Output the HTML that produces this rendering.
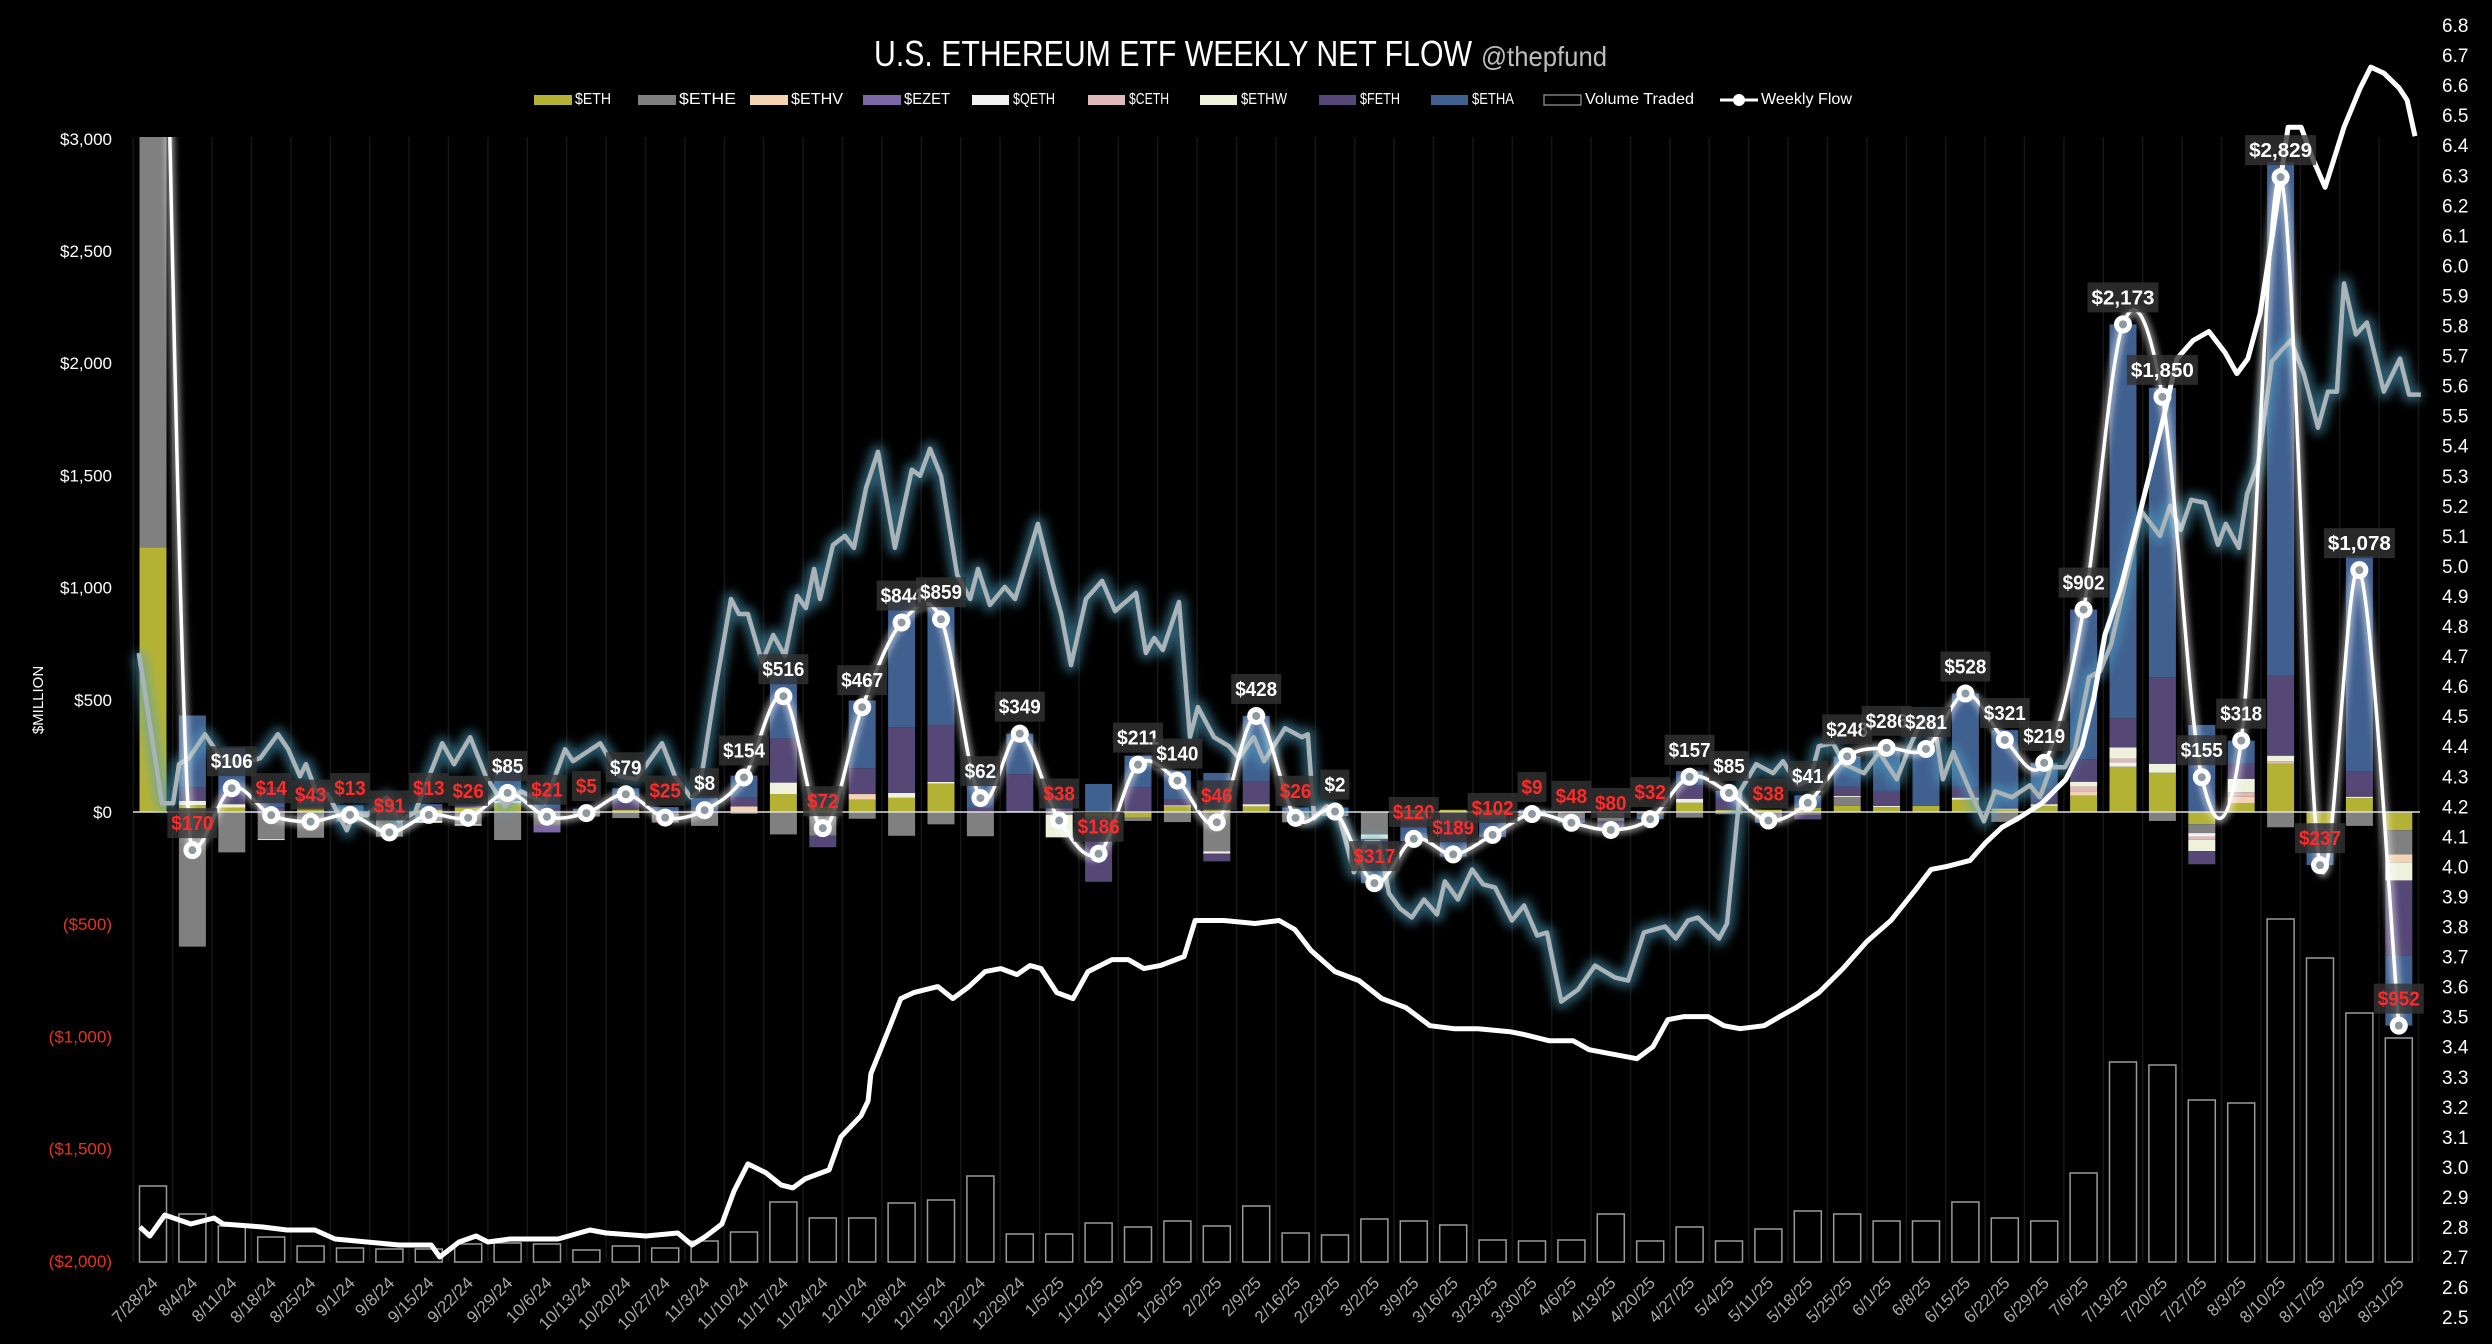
<!DOCTYPE html>
<html><head><meta charset="utf-8"><style>
html,body{margin:0;padding:0;background:#000;}
svg{display:block;font-family:"Liberation Sans",sans-serif;}
</style></head><body>
<svg id="chart" width="2492" height="1344" viewBox="0 0 2492 1344" xmlns="http://www.w3.org/2000/svg">
<defs>
<filter id="glowBlur" x="-20%" y="-20%" width="140%" height="140%"><feGaussianBlur stdDeviation="5"/></filter>
<filter id="softBlur" x="-20%" y="-20%" width="140%" height="140%"><feGaussianBlur stdDeviation="3"/></filter>
<clipPath id="plotClip"><rect x="120" y="137" width="2320" height="1140"/></clipPath>
</defs>
<rect x="0" y="0" width="2492" height="1344" fill="#000"/>
<g>
<text x="874" y="66" font-size="36" fill="#fff" textLength="598" lengthAdjust="spacingAndGlyphs">U.S. ETHEREUM ETF WEEKLY NET FLOW</text>
<text x="1481" y="66" font-size="28" fill="#bdbdbd" textLength="126" lengthAdjust="spacingAndGlyphs">@thepfund</text>
</g>
<g id="legend"></g>
<g id="grid"></g>
<g id="volume"></g>
<g id="bars" clip-path="url(#plotClip)"></g>
<line x1="133" x2="2420" y1="812" y2="812" stroke="#ddd" stroke-width="1.5"/>
<g id="lines"></g>
<g id="flow" clip-path="url(#plotClip)"></g>
<g id="labels"></g>
<g id="axes"></g>
<text x="0" y="0" transform="translate(43,700) rotate(-90)" text-anchor="middle" font-size="15" fill="#fff">$MILLION</text>
</svg>
<script>
const categories=["7/28/24","8/4/24","8/11/24","8/18/24","8/25/24","9/1/24","9/8/24","9/15/24","9/22/24","9/29/24","10/6/24","10/13/24","10/20/24","10/27/24","11/3/24","11/10/24","11/17/24","11/24/24","12/1/24","12/8/24","12/15/24","12/22/24","12/29/24","1/5/25","1/12/25","1/19/25","1/26/25","2/2/25","2/9/25","2/16/25","2/23/25","3/2/25","3/9/25","3/16/25","3/23/25","3/30/25","4/6/25","4/13/25","4/20/25","4/27/25","5/4/25","5/11/25","5/18/25","5/25/25","6/1/25","6/8/25","6/15/25","6/22/25","6/29/25","7/6/25","7/13/25","7/20/25","7/27/25","8/3/25","8/10/25","8/17/25","8/24/25","8/31/25"];
const seriesNames=["$ETH","$ETHE","$ETHV","$EZET","$QETH","$CETH","$ETHW","$FETH","$ETHA"];
const ETH=[1180,30,20,0,20,0,0,10,20,40,0,0,10,0,0,0,80,25,55,63,126,0,0,0,-20,-25,25,15,25,0,0,0,10,10,10,0,0,0,0,41,10,10,19,27,22,27,54,10,27,73,202,175,-54,40,216,-54,62,-81];
const ETHE=[2500,-600,-180,-120,-115,-43,-110,-40,-55,-125,-60,-20,-27,-47,-62,-8,-100,-105,-30,-106,-55,-108,0,-13,-15,-15,-45,-175,0,-46,-18,-100,-40,-50,-30,-19,-30,-40,-12,-25,-10,-38,-13,40,0,0,0,-44,0,0,0,-40,-40,0,-68,0,-62,-108];
const ETHV=[0,0,0,-5,0,0,0,0,0,0,0,0,0,0,0,25,0,0,25,0,0,0,0,0,0,0,0,0,0,0,0,0,0,0,0,0,0,0,0,0,0,0,0,0,0,0,0,0,0,20,0,0,0,28,0,0,0,-35];
const EZET=[0,0,0,0,0,0,0,0,0,0,-31,0,0,0,0,0,0,0,0,0,0,0,0,0,0,0,0,0,0,0,0,0,0,0,0,0,0,0,0,0,0,0,0,0,0,0,0,0,0,0,0,0,0,0,0,0,0,0];
const QETH=[0,0,0,0,0,0,0,0,0,0,0,0,0,0,0,0,0,0,0,0,0,0,0,0,0,0,0,0,0,0,0,0,0,0,0,0,0,0,0,0,0,0,0,0,0,0,0,0,0,0,20,0,-15,0,0,0,0,0];
const CETH=[0,0,0,0,0,0,0,0,0,0,0,0,0,0,0,0,0,0,0,0,0,0,0,0,0,0,0,0,0,0,0,0,0,0,0,0,0,0,0,0,0,0,0,0,0,0,0,0,0,20,16,0,-15,20,10,0,0,0];
const ETHW=[0,20,15,0,0,0,0,-8,-6,10,0,0,0,0,0,0,51,0,0,22,8,0,4,-100,0,0,5,-10,10,0,0,-20,0,0,0,0,0,0,0,18,0,0,0,5,5,0,10,5,8,22,50,40,-50,60,25,0,6,-81];
const FETH=[0,60,50,21,12,0,0,15,10,30,20,0,36,0,10,40,197,-52,115,293,256,20,165,20,-276,110,25,-35,100,0,0,-80,-30,-79,0,0,0,-20,0,60,50,0,-20,40,67,0,48,0,70,100,130,386,-59,68,357,-80,113,-335];
const ETHA=[0,320,200,90,40,30,19,10,5,130,50,15,60,22,60,97,288,60,302,572,524,150,180,55,125,141,130,159,293,20,20,-117,-60,-70,-82,10,-18,-20,-20,63,35,-10,55,136,192,254,416,350,114,667,1755,1289,388,102,2289,-103,959,-312];
const flowValues=[6000,-170,106,-14,-43,-13,-91,-13,-26,85,-21,-5,79,-25,8,154,516,-72,467,844,859,62,349,-38,-186,211,140,-46,428,-26,2,-317,-120,-189,-102,-9,-48,-80,-32,157,85,-38,41,248,286,281,528,321,219,902,2173,1850,155,318,2829,-237,1078,-952];
const flowLabels=["","$170","$106","$14","$43","$13","$91","$13","$26","$85","$21","$5","$79","$25","$8","$154","$516","$72","$467","$844","$859","$62","$349","$38","$186","$211","$140","$46","$428","$26","$2","$317","$120","$189","$102","$9","$48","$80","$32","$157","$85","$38","$41","$248","$286","$281","$528","$321","$219","$902","$2,173","$1,850","$155","$318","$2,829","$237","$1,078","$952"];
const volumeB=[3.8,2.4,1.8,1.25,0.8,0.7,0.65,0.65,0.9,0.95,0.9,0.6,0.8,0.7,1.05,1.5,3.0,2.2,2.2,2.95,3.1,4.3,1.4,1.4,1.95,1.75,2.05,1.8,2.8,1.45,1.35,2.15,2.05,1.85,1.1,1.05,1.1,2.4,1.05,1.75,1.05,1.65,2.55,2.4,2.05,2.05,3.0,2.2,2.05,4.45,10.0,9.85,8.1,7.95,17.15,15.2,12.45,11.2];
const leftTicks=[3000,2500,2000,1500,1000,500,0,-500,-1000,-1500,-2000];
const leftTickLabels=["$3,000","$2,500","$2,000","$1,500","$1,000","$500","$0","($500)","($1,000)","($1,500)","($2,000)"];
const rightTicks=[6.8,6.7,6.6,6.5,6.4,6.3,6.2,6.1,6.0,5.9,5.8,5.7,5.6,5.5,5.4,5.3,5.2,5.1,5.0,4.9,4.8,4.7,4.6,4.5,4.4,4.3,4.2,4.1,4.0,3.9,3.8,3.7,3.6,3.5,3.4,3.3,3.2,3.1,3.0,2.9,2.8,2.7,2.6,2.5];
const whiteWeeks=[-0.33,-0.08,0.30,0.96,1.55,1.78,2.79,3.40,4.11,4.62,5.43,6.24,7.06,7.28,7.77,8.20,8.50,9.06,10.28,11.09,11.50,12.51,13.32,13.68,14.04,14.44,14.75,15.10,15.56,15.94,16.24,16.55,17.16,17.46,17.97,18.15,18.22,18.71,18.98,19.31,19.92,20.30,20.71,21.12,21.52,21.93,22.26,22.54,22.94,23.35,23.73,24.34,24.75,25.15,25.56,26.17,26.45,26.78,27.18,27.97,28.58,28.98,29.39,30.00,30.61,31.19,31.80,32.41,33.02,33.63,34.44,34.82,35.43,36.04,36.45,36.85,37.26,37.66,38.07,38.45,38.86,39.47,39.87,40.28,40.89,41.29,41.70,42.28,42.89,43.50,44.11,44.72,45.13,45.53,46.12,46.52,46.93,47.34,47.94,48.55,48.96,49.26,49.54,49.95,50.36,50.76,51.04,51.37,51.78,52.18,52.59,52.89,53.17,53.48,53.78,54.19,54.52,54.80,55.13,55.61,56.02,56.29,56.62,57.01,57.21,57.41];
const whiteValues=[2.80,2.77,2.84,2.81,2.83,2.81,2.80,2.79,2.79,2.76,2.75,2.74,2.74,2.70,2.75,2.77,2.75,2.76,2.76,2.79,2.78,2.77,2.78,2.74,2.77,2.81,2.92,3.01,2.98,2.94,2.93,2.96,2.99,3.10,3.17,3.22,3.31,3.47,3.56,3.58,3.60,3.56,3.60,3.65,3.66,3.64,3.67,3.66,3.58,3.56,3.65,3.69,3.69,3.66,3.67,3.70,3.82,3.82,3.82,3.81,3.82,3.79,3.72,3.65,3.62,3.56,3.53,3.47,3.46,3.46,3.45,3.44,3.42,3.42,3.39,3.38,3.37,3.36,3.40,3.49,3.50,3.50,3.47,3.46,3.47,3.50,3.53,3.58,3.66,3.75,3.82,3.92,3.99,4.00,4.02,4.08,4.13,4.16,4.21,4.29,4.40,4.56,4.77,4.93,5.14,5.35,5.50,5.69,5.75,5.78,5.71,5.64,5.69,5.84,6.09,6.46,6.46,6.36,6.26,6.46,6.59,6.66,6.64,6.59,6.55,6.43];
const glowWeeks=[-0.36,0.23,0.51,0.66,0.91,1.32,1.73,2.23,2.72,3.17,3.43,3.73,3.88,4.14,4.44,4.92,5.13,5.43,5.94,6.24,6.65,7.34,7.64,8.05,8.45,8.93,9.34,9.95,10.46,10.66,11.35,11.85,12.26,12.92,13.25,13.65,13.86,14.26,14.67,14.87,15.10,15.46,15.74,16.04,16.35,16.57,16.78,16.93,17.26,17.56,17.79,18.10,18.40,18.83,19.26,19.47,19.72,20.00,20.41,20.74,20.94,21.24,21.62,21.88,22.46,22.84,23.05,23.30,23.68,24.09,24.42,24.95,25.20,25.41,25.63,26.04,26.32,26.52,26.93,27.31,27.56,27.94,28.20,28.73,29.16,29.31,29.47,29.80,30.10,30.48,30.79,31.12,31.37,31.65,31.95,32.26,32.59,32.79,33.12,33.48,33.76,34.06,34.49,34.80,35.13,35.38,35.74,36.17,36.60,37.11,37.44,37.84,38.38,38.65,38.96,39.21,39.75,39.95,40.28,40.69,41.12,41.37,41.75,42.06,42.28,42.64,42.92,43.43,43.81,44.26,44.59,44.90,45.23,45.43,45.69,46.12,46.47,46.75,47.18,47.64,47.89,48.17,48.53,48.78,49.14,49.42,49.70,50.05,50.48,50.94,51.19,51.47,51.73,52.08,52.41,52.61,52.94,53.15,53.43,53.78,54.04,54.26,54.59,54.95,55.20,55.43,55.61,55.91,56.19,56.62,57.03,57.26,57.56];
const glowValues=[4.71,4.21,4.21,4.34,4.36,4.44,4.36,4.34,4.36,4.44,4.39,4.30,4.34,4.25,4.24,4.12,4.18,4.17,4.23,4.15,4.18,4.41,4.34,4.43,4.30,4.20,4.25,4.21,4.39,4.35,4.41,4.30,4.29,4.41,4.30,4.23,4.25,4.58,4.89,4.84,4.84,4.68,4.77,4.70,4.90,4.86,4.99,4.89,5.07,5.10,5.06,5.26,5.38,5.06,5.32,5.30,5.39,5.30,4.97,4.89,4.99,4.87,4.93,4.89,5.14,4.94,4.84,4.67,4.89,4.95,4.85,4.91,4.71,4.76,4.72,4.88,4.43,4.53,4.43,4.40,4.36,4.43,4.35,4.46,4.43,4.44,4.16,4.20,4.17,3.98,4.08,4.08,3.91,3.86,3.83,3.89,3.84,3.95,3.89,3.99,3.94,3.93,3.82,3.87,3.77,3.78,3.55,3.59,3.67,3.63,3.62,3.78,3.80,3.76,3.82,3.83,3.76,3.81,4.25,4.34,4.31,4.35,4.27,4.29,4.40,4.41,4.34,4.31,4.38,4.29,4.40,4.49,4.46,4.29,4.38,4.25,4.15,4.25,4.23,4.27,4.23,4.33,4.33,4.39,4.63,4.65,4.74,4.94,5.18,5.10,5.20,5.12,5.22,5.21,5.07,5.14,5.06,5.24,5.34,5.68,5.72,5.75,5.64,5.46,5.58,5.58,5.94,5.77,5.81,5.58,5.69,5.57,5.57];

const seriesData=[ETH,ETHE,ETHV,EZET,QETH,CETH,ETHW,FETH,ETHA];
const colors=["#b4b235","#808080","#f4d3b5","#7c68a6","#f2f2f2","#dfb9b9","#eef2dc","#564876","#40608f"];
const NS="http://www.w3.org/2000/svg";
const X0=153, STEP=39.4, BARW=27;
const xAt=i=>X0+i*STEP;
const yL=v=>812-v*0.2244;
const yR=v=>25+(6.8-v)*300.5;
const yVol=v=>1262-v*20;
function mk(tag,attrs,parent){const e=document.createElementNS(NS,tag);for(const k in attrs)e.setAttribute(k,attrs[k]);parent.appendChild(e);return e;}
const gGrid=document.getElementById('grid'),gBars=document.getElementById('bars'),gVol=document.getElementById('volume'),gLines=document.getElementById('lines'),gFlow=document.getElementById('flow'),gLab=document.getElementById('labels'),gAx=document.getElementById('axes'),gLeg=document.getElementById('legend');

for(let i=0;i<=categories.length;i++){
  const l=mk('line',{x1:xAt(i)-STEP/2,x2:xAt(i)-STEP/2,y1:137,y2:1262,stroke:"#161616","stroke-width":1.5},gGrid);
  
  
}
volumeB.forEach((v,i)=>{
  const r=mk('rect',{x:xAt(i)-BARW/2,y:yVol(v),width:BARW,height:v*20,fill:"#000",stroke:"#9a9a9a","stroke-width":1.5},gVol);
  
  
});
categories.forEach((c,i)=>{
  let pos=0,neg=0;
  seriesData.forEach((s,k)=>{
    const v=s[i]; if(!v) return;
    let y0,y1;
    if(v>0){y0=pos;pos+=v;y1=pos;}else{y0=neg;neg+=v;y1=neg;}
    const top=yL(Math.max(y0,y1)),bot=yL(Math.min(y0,y1));
    const r=mk('rect',{x:xAt(i)-BARW/2,y:top,width:BARW,height:Math.max(0.5,bot-top),fill:colors[k]},gBars);
    
    
  });
});
function pathFrom(xs,ys){return xs.map((x,i)=>(i?'L':'M')+x.toFixed(1)+','+ys[i].toFixed(1)).join('');}
const gx=glowWeeks.map(xAt), gy=glowValues.map(yR);
const gp=pathFrom(gx,gy);
const glow1=mk('path',{d:gp,fill:"none",stroke:"#4fa3c4","stroke-width":14,"stroke-opacity":0.55,filter:"url(#glowBlur)","stroke-linejoin":"round"},gLines);


const glow2=mk('path',{d:gp,fill:"none",stroke:"#a9b3b8","stroke-width":4.5,"stroke-linejoin":"round"},gLines);


const wp=pathFrom(whiteWeeks.map(xAt),whiteValues.map(yR));
const wl=mk('path',{d:wp,fill:"none",stroke:"#fff","stroke-width":5,"stroke-linejoin":"round"},gLines);


const fx=flowValues.map((v,i)=>xAt(i)), fy=flowValues.map(yL);
const ty=fy.slice();
ty[0]=ty[2];
let d='M'+fx[0]+','+fy[0];
for(let i=0;i<fx.length-1;i++){
  const a=Math.max(0,i-1),b=Math.min(fx.length-1,i+2);
  const t=1/6;
  const c1x=fx[i]+(fx[i+1]-fx[a])*t, c1y=fy[i]+(ty[i+1]-ty[a])*t*(i===0?0:1);
  const c2x=fx[i+1]-(fx[b]-fx[i])*t, c2y=fy[i+1]-(ty[b]-ty[i])*t;
  d+='C'+c1x.toFixed(1)+','+c1y.toFixed(1)+' '+c2x.toFixed(1)+','+c2y.toFixed(1)+' '+fx[i+1].toFixed(1)+','+fy[i+1].toFixed(1);
}
const fg=mk('path',{d:d,fill:"none",stroke:"#fff","stroke-width":10,"stroke-opacity":0.45,filter:"url(#softBlur)"},gFlow);


const fl=mk('path',{d:d,fill:"none",stroke:"#fff","stroke-width":3.5},gFlow);


flowValues.forEach((v,i)=>{
  const y=yL(v); if(y<137) return;
  const c=mk('circle',{cx:fx[i],cy:y,r:9,fill:"#fff"},gFlow);
  
  
  const c2=mk('circle',{cx:fx[i],cy:y,r:4,fill:"#8f9aa0"},gFlow);
  
  
});
flowLabels.forEach((t,i)=>{
  if(!t) return;
  const y=yL(flowValues[i])-27;
  const w=t.length*10.5+8;
  const r=mk('rect',{x:fx[i]-w/2,y:y-15,width:w,height:30,fill:"#333","fill-opacity":0.8},gLab);
  
  
  const tx=mk('text',{x:fx[i],y:y+7,"text-anchor":"middle","font-size":20,"font-weight":"bold",fill:flowValues[i]<0?"#ff2a2a":"#fff",textLength:t.length*10.5,lengthAdjust:"spacingAndGlyphs"},gLab);
  tx.textContent=t;
  
  
});
leftTicks.forEach((v,i)=>{
  const t=mk('text',{x:112,y:yL(v)+6,"text-anchor":"end","font-size":17,fill:v<0?"#e8321e":"#fff"},gAx);
  t.textContent=leftTickLabels[i];
  
  
});
rightTicks.forEach(v=>{
  const t=mk('text',{x:2442,y:yR(v)+7,"font-size":19,fill:"#fff"},gAx);
  t.textContent=v.toFixed(1);
  
  
});
categories.forEach((c,i)=>{
  const x=xAt(i)+6,y=1284;
  const t=mk('text',{x:x,y:y,"text-anchor":"end","font-size":17,fill:"#a8a8a8",transform:`rotate(-45 ${x} ${y})`},gAx);
  t.textContent=c;
  
  
});
const legX=[534,638,750,863,972,1088,1200,1319,1431];
const legW=[36,57,52,46,42,40,46,40,42];
seriesNames.forEach((n,k)=>{
  const g=mk('g',{},gLeg);
  
  
  mk('rect',{x:legX[k],y:95,width:k<4?38:37,height:10,fill:colors[k]},g);
  const t=mk('text',{x:legX[k]+41,y:104,"font-size":16,fill:"#fff",textLength:legW[k],lengthAdjust:"spacingAndGlyphs"},g);
  t.textContent=n;
});
const gv=mk('g',{},gLeg);


mk('rect',{x:1544,y:95,width:37,height:10,fill:"#000",stroke:"#9a9a9a","stroke-width":1.2},gv);
const tv=mk('text',{x:1585,y:104,"font-size":16,fill:"#fff",textLength:109,lengthAdjust:"spacingAndGlyphs"},gv);
tv.textContent="Volume Traded";
const gw=mk('g',{},gLeg);


mk('line',{x1:1720,x2:1758,y1:100,y2:100,stroke:"#fff","stroke-width":3},gw);
mk('circle',{cx:1739,cy:100,r:6,fill:"#fff"},gw);
const tw=mk('text',{x:1761,y:104,"font-size":16,fill:"#fff",textLength:91,lengthAdjust:"spacingAndGlyphs"},gw);
tw.textContent="Weekly Flow";
</script>
</body></html>
